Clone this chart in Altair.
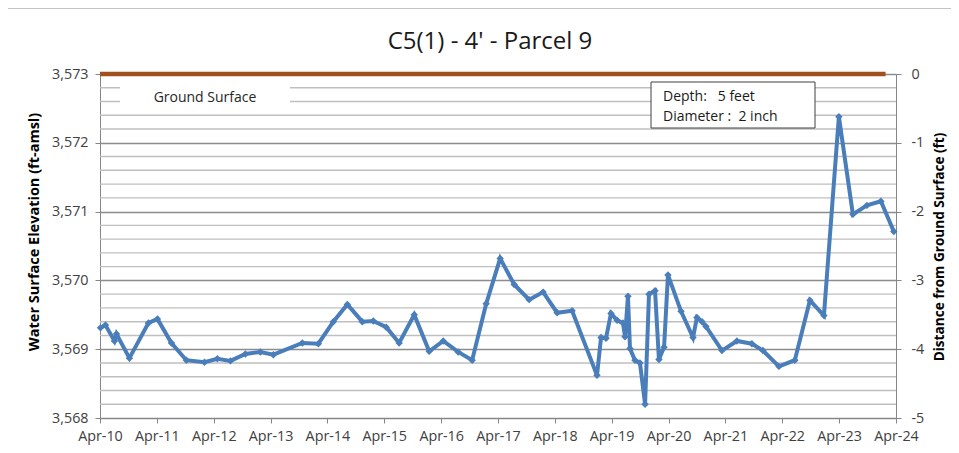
import altair as alt
import pandas as pd

# ---- data ----
dates = [
    "2010-04-04", "2010-05-06", "2010-07-03", "2010-07-16", "2010-10-07",
    "2011-02-06", "2011-04-05", "2011-07-04", "2011-10-08", "2012-02-01",
    "2012-04-24", "2012-07-17", "2012-10-21", "2013-01-25", "2013-04-19",
    "2013-10-22", "2014-02-02", "2014-05-09", "2014-08-07", "2014-11-11",
    "2015-01-21", "2015-04-14", "2015-07-06", "2015-10-11", "2016-01-15",
    "2016-04-14", "2016-07-19", "2016-10-17", "2017-01-15", "2017-04-15",
    "2017-07-14", "2017-10-18", "2018-01-16", "2018-04-16", "2018-07-21",
    "2018-12-28", "2019-01-23", "2019-02-24", "2019-03-28", "2019-05-06",
    "2019-06-13", "2019-06-26", "2019-07-15", "2019-07-28", "2019-08-29",
    "2019-09-30", "2019-11-02", "2019-11-27", "2020-01-05", "2020-01-30",
    "2020-03-03", "2020-03-28", "2020-06-20", "2020-09-05", "2020-09-30",
    "2020-11-02", "2020-11-27", "2021-03-10", "2021-06-14", "2021-09-18",
    "2021-11-28", "2022-03-11", "2022-06-21", "2022-09-26", "2022-12-25",
    "2023-03-31", "2023-06-29", "2023-09-27", "2023-12-26", "2024-03-18",
]
elevation = [
    3569.31, 3569.35, 3569.12, 3569.22, 3568.87,
    3569.38, 3569.44, 3569.09, 3568.84, 3568.81,
    3568.86, 3568.83, 3568.93, 3568.96, 3568.92,
    3569.09, 3569.08, 3569.40, 3569.65, 3569.40,
    3569.41, 3569.32, 3569.09, 3569.50, 3568.97,
    3569.12, 3568.96, 3568.84, 3569.66, 3570.32,
    3569.94, 3569.72, 3569.83, 3569.53, 3569.56,
    3568.62, 3569.17, 3569.16, 3569.52, 3569.42,
    3569.38, 3569.18, 3569.77, 3569.01, 3568.84,
    3568.80, 3568.20, 3569.80, 3569.85, 3568.85,
    3569.03, 3570.08, 3569.55, 3569.17, 3569.46,
    3569.40, 3569.33, 3568.98, 3569.12, 3569.08,
    3568.98, 3568.75, 3568.84, 3569.71, 3569.49,
    3572.38, 3570.96, 3571.09, 3571.15, 3570.71,
]
ground_start = ["2010-04-01"]
ground_end = ["2024-01-25"]
ground_depth = [0]

title_text = "C5(1) - 4' - Parcel 9"
left_title = "Water Surface Elevation (ft-amsl)"
right_title = "Distance from Ground Surface (ft)"
ground_label = "Ground Surface"
info_lines = ["Depth:\u00a0\u00a0\u00a05 feet", "Diameter :\u00a0\u00a02 inch"]

elev_ticks = [3568, 3569, 3570, 3571, 3572, 3573]
minor_grid = [3568.2, 3568.4, 3568.6, 3568.8, 3569.2, 3569.4, 3569.6, 3569.8,
              3570.2, 3570.4, 3570.6, 3570.8, 3571.2, 3571.4, 3571.6, 3571.8,
              3572.2, 3572.4, 3572.6, 3572.8]
depth_ticks = [0, -1, -2, -3, -4, -5]
tick_years = list(range(2010, 2025))

# ---- layout ----
W, H = 796, 344
FONT = "Open Sans"
AXIS_GRAY = "#868686"
LABEL_COLOR = "#404040"
LABEL_SIZE = 14.3

df = pd.DataFrame({"date": dates, "elev": elevation})
ground_df = pd.DataFrame({"start": ground_start, "end": ground_end, "depth": ground_depth})
minor_df = pd.DataFrame({"g": minor_grid})
one = pd.DataFrame({"a": [0]})

xscale = alt.Scale(
    type="utc",
    domain=[alt.DateTime(year=2010, month=4, date=1, utc=True),
            alt.DateTime(year=2024, month=4, date=1, utc=True)],
    nice=False,
)
yscale = alt.Scale(domain=[3568, 3573], nice=False, zero=False)
dscale = alt.Scale(domain=[-5, 0], nice=False, zero=False)

x_axis = alt.Axis(
    values=[alt.DateTime(year=y, month=4, date=1, utc=True) for y in tick_years],
    format="%b-%y", title=None, grid=False, labelOverlap=False, labelFlush=False,
    domainColor=AXIS_GRAY, tickColor=AXIS_GRAY, tickSize=5,
    labelPadding=6, labelFont=FONT, labelFontSize=LABEL_SIZE, labelColor=LABEL_COLOR,
)
left_axis = alt.Axis(
    orient="left", values=elev_ticks, format=",d", title=None,
    grid=True, gridColor="#8c8c8c", gridWidth=1.3, labelFlush=False,
    domainColor=AXIS_GRAY, tickColor=AXIS_GRAY, tickSize=5,
    labelPadding=7, labelFont=FONT, labelFontSize=LABEL_SIZE, labelColor=LABEL_COLOR,
)
right_axis = alt.Axis(
    orient="right", values=depth_ticks, labelExpr="datum.value + ''", title=None,
    grid=False, labelFlush=False, domainColor=AXIS_GRAY, tickColor=AXIS_GRAY, tickSize=5,
    labelPadding=10, labelFont=FONT, labelFontSize=LABEL_SIZE, labelColor=LABEL_COLOR,
)

minor = alt.Chart(minor_df).mark_rule(color="#bfbfbf", strokeWidth=1.4).encode(
    y=alt.Y("g:Q", scale=yscale, axis=left_axis)
)

label_box = alt.Chart(one).mark_rect(color="white").encode(
    x=alt.value(20), x2=alt.value(190), y=alt.value(12), y2=alt.value(36)
)
label_text = alt.Chart(one).mark_text(font=FONT, fontSize=14, color="#262626").encode(
    x=alt.value(105), y=alt.value(24), text=alt.value(ground_label)
)

ground = alt.Chart(ground_df).mark_rule(color="#A0521E", strokeWidth=4.5).encode(
    x=alt.X("start:T", scale=xscale, axis=x_axis),
    x2="end:T",
    y=alt.Y("depth:Q", scale=dscale, axis=right_axis),
)

line = alt.Chart(df).mark_line(
    color="#4A7EBB", strokeWidth=4,
    point=alt.OverlayMarkDef(shape="diamond", size=55, filled=True, color="#4A7EBB"),
).encode(
    x=alt.X("date:T", scale=xscale, axis=x_axis),
    y=alt.Y("elev:Q", scale=yscale, axis=None),
)

info_box = alt.Chart(one).mark_rect(fill="white", stroke="#404040", strokeWidth=1).encode(
    x=alt.value(551), x2=alt.value(715), y=alt.value(8), y2=alt.value(54)
)
info1 = alt.Chart(one).mark_text(font=FONT, fontSize=14, color="#1a1a1a", align="left").encode(
    x=alt.value(563), y=alt.value(23), text=alt.value(info_lines[0])
)
info2 = alt.Chart(one).mark_text(font=FONT, fontSize=14, color="#1a1a1a", align="left").encode(
    x=alt.value(563), y=alt.value(43), text=alt.value(info_lines[1])
)

title = alt.Chart(one).mark_text(font=FONT, fontSize=24, color="#1a1a1a").encode(
    x=alt.value(390), y=alt.value(-32), text=alt.value(title_text)
)
ltitle = alt.Chart(one).mark_text(font=FONT, fontSize=14.5, fontWeight="bold", color="#000000", angle=270).encode(
    x=alt.value(-65), y=alt.value(158), text=alt.value(left_title)
)
rtitle = alt.Chart(one).mark_text(font=FONT, fontSize=13.6, fontWeight="bold", color="#000000", angle=270).encode(
    x=alt.value(840), y=alt.value(173), text=alt.value(right_title)
)
border = alt.Chart(one).mark_rect(fill=None, stroke="#8a8a8a", strokeWidth=1.2).encode(
    x=alt.value(-96), x2=alt.value(W + 80), y=alt.value(-66), y2=alt.value(H + 60)
)

chart = alt.layer(
    border, minor, label_box, label_text, ground, line, info_box, info1, info2,
    title, ltitle, rtitle,
).resolve_scale(y="independent").properties(
    width=W, height=H,
    autosize=alt.AutoSizeParams(type="none"),
    padding={"left": 92, "top": 66, "right": 55, "bottom": 27},
    background="white",
).configure_view(stroke=None)

chart.save("out.html", embed_options={"renderer": "svg", "actions": False})
